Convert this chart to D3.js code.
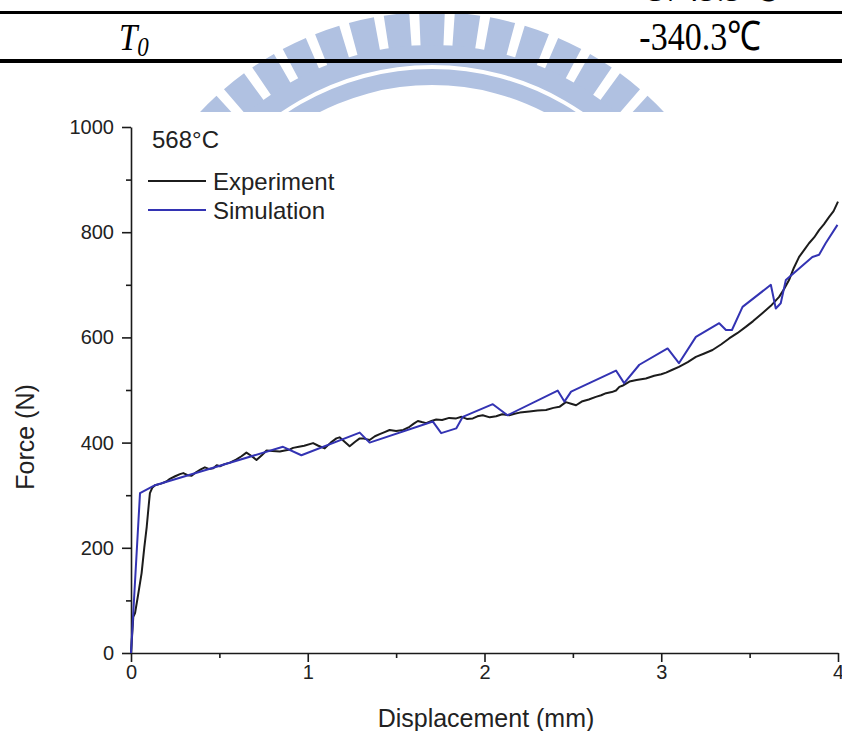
<!DOCTYPE html>
<html>
<head>
<meta charset="utf-8">
<script src="https://cdn.jsdelivr.net/npm/d3@7"></script>
<style>
  html, body { margin: 0; padding: 0; background: #fff; }
  svg { display: block; }
</style>
</head>
<body>
<svg id="fig" width="842" height="731"></svg>
<script>
// Force–displacement response at 568°C
const expDisp = [0, 0.013, 0.023, 0.04, 0.06, 0.075, 0.089, 0.1, 0.107, 0.12, 0.136, 0.17, 0.2, 0.22, 0.25, 0.277, 0.296, 0.32, 0.343, 0.37, 0.395, 0.418, 0.44, 0.465, 0.485, 0.503, 0.53, 0.56, 0.597, 0.625, 0.653, 0.68, 0.71, 0.74, 0.767, 0.8, 0.842, 0.87, 0.9, 0.917, 0.95, 0.98, 1.03, 1.06, 1.096, 1.13, 1.162, 1.18, 1.21, 1.237, 1.27, 1.294, 1.312, 1.35, 1.38, 1.407, 1.435, 1.463, 1.5, 1.54, 1.576, 1.6, 1.623, 1.645, 1.67, 1.7, 1.727, 1.76, 1.8, 1.84, 1.87, 1.9, 1.934, 1.96, 1.99, 2.03, 2.066, 2.1, 2.14, 2.17, 2.2, 2.254, 2.3, 2.348, 2.39, 2.424, 2.46, 2.49, 2.518, 2.55, 2.59, 2.63, 2.66, 2.688, 2.72, 2.744, 2.763, 2.78, 2.82, 2.86, 2.913, 2.96, 3.0, 3.027, 3.06, 3.1, 3.15, 3.196, 3.24, 3.29, 3.34, 3.384, 3.43, 3.478, 3.52, 3.572, 3.62, 3.667, 3.695, 3.723, 3.75, 3.78, 3.81, 3.836, 3.865, 3.893, 3.92, 3.95, 3.975, 4.0];
const expForce = [0, 69, 76, 110, 152, 200, 240, 280, 304, 314, 319, 322, 326, 331, 336, 340, 342, 338, 337, 344, 349, 353, 350, 351, 357, 355, 359, 362, 368, 374, 381, 375, 367, 376, 385, 384, 383, 385, 387, 390, 392, 394, 399, 394, 389, 400, 408, 410, 401, 393, 402, 408, 408, 405, 412, 416, 420, 424, 422, 424, 430, 436, 441, 439, 437, 441, 444, 443, 447, 446, 449, 445, 446, 450, 452, 448, 450, 454, 452, 455, 457, 459, 461, 462, 466, 468, 477, 474, 471, 478, 482, 487, 490, 494, 496, 499, 506, 508, 516, 519, 522, 527, 530, 533, 538, 544, 553, 563, 569, 576, 587, 598, 608, 620, 631, 646, 660, 677, 692, 709, 732, 753, 767, 779, 790, 804, 815, 829, 840, 858];

const simDisp = [0, 0.051, 0.136, 0.86, 0.964, 1.294, 1.35, 1.708, 1.755, 1.84, 1.877, 2.047, 2.13, 2.414, 2.452, 2.49, 2.744, 2.79, 2.876, 3.036, 3.1, 3.196, 3.328, 3.366, 3.4, 3.46, 3.62, 3.648, 3.676, 3.705, 3.855, 3.893, 3.93, 3.997];
const simForce = [0, 304, 319, 392, 376, 419, 400, 440, 418, 427, 449, 473, 452, 499, 478, 497, 537, 513, 548, 579, 551, 601, 627, 614, 614, 658, 700, 655, 665, 709, 753, 757, 779, 814];

const xMajor = [0, 1, 2, 3, 4];
const xMinor = [0.5, 1.5, 2.5, 3.5];
const yMajor = [0, 200, 400, 600, 800, 1000];
const yMinor = [100, 300, 500, 700, 900];

const seriesNames = ["Experiment", "Simulation"];
const seriesColors = ["#1c1c1c", "#3333b3"];
const tempLabel = "568°C";

// table fragment above the figure
const tableRows = [
  { sym: "", val: "-3745.5℃" },
  { sym: "T", sub: "0", val: "-340.3℃" }
];

const svg = d3.select("#fig");
const font = "'Liberation Sans', Arial, Helvetica, sans-serif";
const serif = "'Liberation Serif', 'Times New Roman', serif";

// ---- emblem in the page background ----
const emb = svg.append("g");
svg.append("defs").append("clipPath").attr("id", "embClip")
  .append("rect").attr("x", 0).attr("y", 0).attr("width", 842).attr("height", 112);
emb.attr("clip-path", "url(#embClip)");
const ec = [432, 331];
const embColor = "#b0c1e1";
const arc = d3.arc();
const deg = Math.PI / 180;
const barAngles = d3.range(-7, 8).map(i => i * 6.4);
emb.selectAll("path.bar").data(barAngles).join("path")
  .attr("class", "bar")
  .attr("transform", `translate(${ec[0]},${ec[1]})`)
  .attr("d", a => arc({ innerRadius: 280, outerRadius: 319, startAngle: (a - 2.3) * deg, endAngle: (a + 2.3) * deg }))
  .attr("fill", embColor);
[[266, 286], [246, 262]].forEach(([r0, r1]) => {
  emb.append("path")
    .attr("transform", `translate(${ec[0]},${ec[1]})`)
    .attr("d", arc({ innerRadius: r0, outerRadius: r1, startAngle: -60 * deg, endAngle: 60 * deg }))
    .attr("fill", embColor);
});

// ---- table rules and cells ----
svg.append("rect").attr("x", 0).attr("y", 11).attr("width", 842).attr("height", 3).attr("fill", "#000");
svg.append("rect").attr("x", 0).attr("y", 59).attr("width", 842).attr("height", 4).attr("fill", "#000");

svg.append("text").attr("transform", "translate(706,1) scale(1,1.2)").attr("text-anchor", "middle")
  .attr("font-family", serif).attr("font-size", 34).attr("fill", "#000")
  .text(tableRows[0].val);
const t0 = svg.append("text").attr("transform", "translate(119,50) scale(1,1.15)")
  .attr("font-family", serif).attr("font-size", 33).attr("font-style", "italic").attr("fill", "#000");
t0.append("tspan").text(tableRows[1].sym);
t0.append("tspan").attr("font-size", 23).attr("dy", 5).text(tableRows[1].sub);
svg.append("text").attr("transform", "translate(700,50) scale(1,1.2)").attr("text-anchor", "middle")
  .attr("font-family", serif).attr("font-size", 34).attr("fill", "#000")
  .text(tableRows[1].val);

// ---- chart ----
const x = d3.scaleLinear().domain([0, 4]).range([131, 838]);
const y = d3.scaleLinear().domain([0, 1000]).range([653, 127]);

const axisColor = "#1a1a1a";
function styleAxis(g) {
  g.selectAll("path.domain").attr("stroke", axisColor).attr("stroke-width", 1.6);
  g.selectAll(".tick line").attr("stroke", axisColor).attr("stroke-width", 1.6);
  g.selectAll(".tick text").attr("font-family", font).attr("font-size", 20).attr("fill", "#222");
}

const gxMinor = svg.append("g").attr("transform", `translate(0,${y(0)})`)
  .call(d3.axisBottom(x).tickValues(xMinor).tickSize(5).tickFormat(""));
gxMinor.select("path.domain").remove();
styleAxis(gxMinor);
const gx = svg.append("g").attr("transform", `translate(0,${y(0)})`)
  .call(d3.axisBottom(x).tickValues(xMajor).tickSize(9).tickSizeOuter(0).tickPadding(3).tickFormat(d3.format("d")));
styleAxis(gx);

const gyMinor = svg.append("g").attr("transform", `translate(${x(0)},0)`)
  .call(d3.axisLeft(y).tickValues(yMinor).tickSize(5).tickFormat(""));
gyMinor.select("path.domain").remove();
styleAxis(gyMinor);
const gy = svg.append("g").attr("transform", `translate(${x(0)},0)`)
  .call(d3.axisLeft(y).tickValues(yMajor).tickSize(9).tickSizeOuter(0).tickPadding(8).tickFormat(d3.format("d")));
styleAxis(gy);

svg.append("text").attr("x", 486).attr("y", 727).attr("text-anchor", "middle")
  .attr("font-family", font).attr("font-size", 25).attr("fill", "#222")
  .text("Displacement (mm)");
svg.append("text").attr("transform", "translate(34,437) rotate(-90)").attr("text-anchor", "middle")
  .attr("font-family", font).attr("font-size", 25).attr("fill", "#222")
  .text("Force (N)");

const line = d3.line().x(d => x(d[0])).y(d => y(d[1]));
const expData = expDisp.map((d, i) => [d, expForce[i]]);
const simData = simDisp.map((d, i) => [d, simForce[i]]);

svg.append("path").datum(expData).attr("d", line)
  .attr("fill", "none").attr("stroke", seriesColors[0]).attr("stroke-width", 2).attr("stroke-linejoin", "round");
svg.append("path").datum(simData).attr("d", line)
  .attr("fill", "none").attr("stroke", seriesColors[1]).attr("stroke-width", 2).attr("stroke-linejoin", "round");

// legend
svg.append("text").attr("x", 152).attr("y", 148)
  .attr("font-family", font).attr("font-size", 24).attr("fill", "#222").text(tempLabel);
const leg = svg.append("g");
seriesNames.forEach((name, i) => {
  const ly = 181 + i * 29;
  leg.append("line").attr("x1", 148).attr("x2", 206).attr("y1", ly).attr("y2", ly)
    .attr("stroke", seriesColors[i]).attr("stroke-width", 2);
  leg.append("text").attr("x", 213).attr("y", ly + 8.5)
    .attr("font-family", font).attr("font-size", 24).attr("fill", "#222").text(name);
});
</script>
</body>
</html>
